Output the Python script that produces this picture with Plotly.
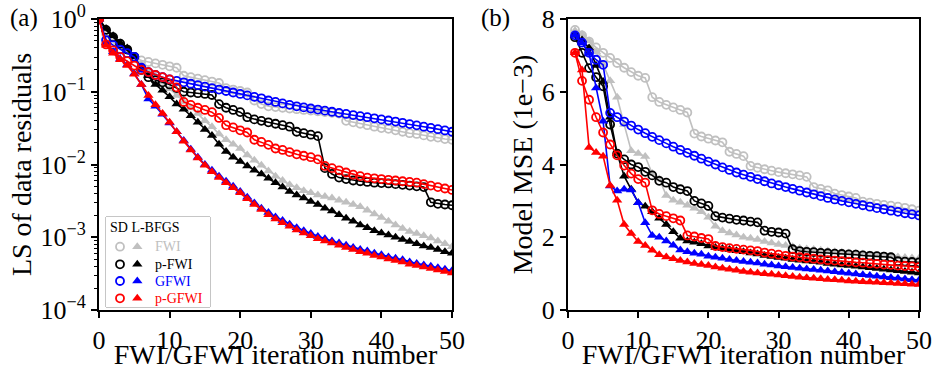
import plotly.graph_objects as go

# ---------------- data ----------------
left_iter = list(range(0, 51))    # panel (a) iterations
right_iter = list(range(1, 51))   # panel (b) iterations

# panel (a): log10 of normalized LS data residuals
ls_fwi_sd_log10 = [0, -0.2, -0.32, -0.41, -0.47, -0.53, -0.57, -0.59, -0.61, -0.63, -0.65, -0.67, -0.78, -0.8, -0.82,
                   -0.84, -0.86, -0.88, -0.95, -0.97, -0.99, -1.01, -1.12, -1.17, -1.2, -1.21, -1.22, -1.23, -1.24, -1.25,
                   -1.26, -1.27, -1.28, -1.29, -1.3, -1.4, -1.42, -1.44, -1.46, -1.48, -1.5, -1.51, -1.53, -1.55, -1.57,
                   -1.58, -1.6, -1.62, -1.63, -1.65, -1.66]
ls_fwi_lb_log10 = [0, -0.15, -0.27, -0.37, -0.45, -0.53, -0.62, -0.7, -0.78, -0.87, -0.96, -1.05, -1.14, -1.22, -1.3,
                   -1.4, -1.48, -1.58, -1.66, -1.72, -1.78, -1.87, -1.94, -2.01, -2.09, -2.16, -2.22, -2.28, -2.32, -2.36,
                   -2.39, -2.42, -2.44, -2.46, -2.49, -2.52, -2.55, -2.58, -2.63, -2.68, -2.73, -2.78, -2.83, -2.88, -2.92,
                   -2.95, -2.98, -3.01, -3.05, -3.09, -3.13]
ls_pfwi_sd_log10 = [0, -0.15, -0.25, -0.34, -0.42, -0.52, -0.7, -0.8, -0.84, -0.87, -0.9, -0.95, -1.0, -1.01, -1.02,
                    -1.03, -1.045, -1.17, -1.22, -1.25, -1.28, -1.35, -1.38, -1.4, -1.42, -1.44, -1.46, -1.48, -1.55, -1.57,
                    -1.59, -1.61, -2.05, -2.13, -2.18, -2.2, -2.22, -2.23, -2.24, -2.25, -2.255, -2.26, -2.27, -2.28, -2.29,
                    -2.3, -2.31, -2.52, -2.54, -2.55, -2.56]
ls_pfwi_lb_log10 = [0, -0.13, -0.23, -0.33, -0.4, -0.52, -0.68, -0.78, -0.9, -0.98, -1.07, -1.17, -1.24, -1.33, -1.42,
                    -1.52, -1.6, -1.72, -1.82, -1.9, -1.96, -2.02, -2.08, -2.13, -2.19, -2.25, -2.31, -2.37, -2.42, -2.46,
                    -2.51, -2.55, -2.6, -2.64, -2.69, -2.74, -2.78, -2.83, -2.87, -2.91, -2.94, -2.97, -3.0, -3.03, -3.06,
                    -3.09, -3.12, -3.14, -3.17, -3.2, -3.22]
ls_gfwi_sd_log10 = [0, -0.29, -0.36, -0.42, -0.47, -0.52, -0.67, -0.73, -0.77, -0.8, -0.83, -0.85, -0.87, -0.89, -0.91,
                    -0.93, -0.95, -0.97, -0.99, -1.01, -1.03, -1.05, -1.07, -1.09, -1.12, -1.14, -1.16, -1.18, -1.2, -1.215,
                    -1.23, -1.245, -1.26, -1.275, -1.29, -1.305, -1.32, -1.335, -1.35, -1.365, -1.38, -1.395, -1.41, -1.427,
                    -1.445, -1.462, -1.48, -1.497, -1.515, -1.532, -1.55]
ls_gfwi_lb_log10 = [0, -0.33, -0.45, -0.55, -0.63, -0.75, -0.9, -1.1, -1.2, -1.31, -1.43, -1.55, -1.67, -1.79, -1.9,
                    -2.0, -2.08, -2.16, -2.23, -2.3, -2.37, -2.45, -2.53, -2.6, -2.66, -2.72, -2.77, -2.82, -2.87, -2.91,
                    -2.95, -2.99, -3.02, -3.05, -3.08, -3.11, -3.14, -3.17, -3.19, -3.22, -3.24, -3.27, -3.29, -3.31, -3.34,
                    -3.36, -3.38, -3.4, -3.42, -3.44, -3.46]
ls_pgfwi_sd_log10 = [0, -0.35, -0.43, -0.52, -0.58, -0.64, -0.7, -0.73, -0.77, -0.8, -0.83, -0.94, -1.14, -1.18, -1.22,
                     -1.25, -1.28, -1.36, -1.46, -1.49, -1.53, -1.56, -1.66, -1.69, -1.73, -1.78, -1.8, -1.83, -1.86, -1.88,
                     -1.9, -1.93, -2.02, -2.05, -2.08, -2.11, -2.14, -2.16, -2.18, -2.19, -2.2, -2.21, -2.22, -2.23, -2.24,
                     -2.25, -2.27, -2.29, -2.31, -2.33, -2.35]
ls_pgfwi_lb_log10 = [0, -0.36, -0.47, -0.56, -0.64, -0.76, -0.9, -1.05, -1.18, -1.3, -1.42, -1.55, -1.68, -1.8, -1.91,
                     -2.01, -2.1, -2.18, -2.25, -2.32, -2.39, -2.47, -2.55, -2.62, -2.69, -2.75, -2.8, -2.85, -2.9, -2.94,
                     -2.98, -3.02, -3.05, -3.08, -3.11, -3.14, -3.17, -3.2, -3.22, -3.25, -3.27, -3.3, -3.32, -3.34, -3.37,
                     -3.39, -3.41, -3.43, -3.45, -3.47, -3.49]

# panel (b): model MSE (x 1e-3)
mse_fwi_sd = [7.7, 7.55, 7.38, 7.22, 7.07, 6.93, 6.79, 6.66, 6.54, 6.44, 6.38, 5.85, 5.72, 5.64, 5.57, 5.5, 5.43,
              4.85, 4.77, 4.71, 4.66, 4.61, 4.35, 4.29, 4.23, 3.96, 3.91, 3.87, 3.83, 3.79, 3.76, 3.73, 3.7, 3.66,
              3.38, 3.33, 3.29, 3.2, 3.16, 3.12, 3.08, 2.98, 2.95, 2.92, 2.89, 2.87, 2.84, 2.81, 2.77, 2.73]
mse_fwi_lb = [7.68, 7.58, 7.4, 7.1, 6.75, 6.3, 5.85, 5.1, 4.38, 4.3, 4.22, 3.75, 3.6, 3.15, 3.02, 2.96, 2.88, 2.8,
              2.7, 2.55, 2.3, 2.18, 2.12, 2.06, 2.0, 1.97, 1.94, 1.88, 1.84, 1.8, 1.77, 1.74, 1.7, 1.68, 1.66, 1.64,
              1.62, 1.6, 1.59, 1.57, 1.56, 1.54, 1.52, 1.5, 1.49, 1.47, 1.46, 1.44, 1.43, 1.42]
mse_pfwi_sd = [7.5, 7.07, 6.65, 6.4, 6.15, 5.1, 4.3, 4.14, 4.0, 3.93, 3.8, 3.7, 3.55, 3.5, 3.38, 3.32, 3.27, 3.0,
               2.93, 2.86, 2.58, 2.54, 2.51, 2.48, 2.46, 2.43, 2.41, 2.18, 2.15, 2.13, 2.1, 1.67, 1.62, 1.6, 1.59,
               1.57, 1.56, 1.55, 1.54, 1.53, 1.52, 1.5, 1.49, 1.48, 1.47, 1.45, 1.34, 1.33, 1.32, 1.31]
mse_pfwi_lb = [7.55, 7.42, 7.2, 6.72, 6.28, 5.3, 4.3, 3.68, 3.32, 2.95, 2.85, 2.7, 2.52, 2.35, 2.15, 1.97, 1.9,
               1.86, 1.82, 1.76, 1.72, 1.69, 1.66, 1.63, 1.6, 1.57, 1.54, 1.5, 1.47, 1.44, 1.42, 1.39, 1.37, 1.35,
               1.33, 1.31, 1.28, 1.26, 1.24, 1.22, 1.2, 1.18, 1.16, 1.14, 1.12, 1.1, 1.08, 1.06, 1.04, 1.02]
mse_gfwi_sd = [7.55, 7.35, 7.07, 6.88, 6.74, 5.42, 5.3, 5.18, 5.07, 4.96, 4.86, 4.76, 4.67, 4.58, 4.49, 4.4, 4.32,
               4.24, 4.16, 4.08, 4.0, 3.92, 3.85, 3.78, 3.72, 3.66, 3.6, 3.54, 3.48, 3.43, 3.38, 3.33, 3.28, 3.23,
               3.18, 3.13, 3.08, 3.04, 3.0, 2.96, 2.92, 2.88, 2.84, 2.8, 2.77, 2.73, 2.7, 2.66, 2.63, 2.6]
mse_gfwi_lb = [7.55, 7.34, 7.05, 6.1, 5.19, 3.41, 3.27, 3.32, 3.3, 2.95, 2.4, 2.05, 2.0, 1.9, 1.78, 1.65, 1.6,
               1.56, 1.53, 1.48, 1.45, 1.42, 1.39, 1.36, 1.33, 1.31, 1.29, 1.26, 1.24, 1.21, 1.19, 1.17, 1.15, 1.13,
               1.11, 1.09, 1.07, 1.05, 1.03, 1.01, 0.99, 0.97, 0.95, 0.93, 0.91, 0.89, 0.87, 0.85, 0.83, 0.82]
mse_pgfwi_sd = [7.07, 6.3, 5.78, 5.3, 4.88, 4.55, 4.25, 3.97, 3.75, 3.6, 3.5, 2.74, 2.64, 2.58, 2.52, 2.46, 2.05,
                2.02, 1.98, 1.95, 1.76, 1.73, 1.7, 1.68, 1.66, 1.64, 1.62, 1.58, 1.55, 1.52, 1.49, 1.47, 1.45, 1.43,
                1.41, 1.39, 1.37, 1.36, 1.34, 1.33, 1.31, 1.3, 1.28, 1.27, 1.25, 1.24, 1.22, 1.21, 1.2, 1.18]
mse_pgfwi_lb = [7.07, 6.6, 4.47, 4.33, 4.23, 3.42, 3.02, 2.35, 2.1, 1.88, 1.77, 1.64, 1.52, 1.46, 1.41, 1.36, 1.32,
                1.28, 1.25, 1.22, 1.18, 1.15, 1.12, 1.09, 1.06, 1.04, 1.02, 1.0, 0.98, 0.96, 0.94, 0.92, 0.9, 0.89,
                0.87, 0.86, 0.84, 0.83, 0.82, 0.8, 0.79, 0.78, 0.77, 0.76, 0.75, 0.74, 0.73, 0.72, 0.71, 0.7]

methods = ["FWI", "p-FWI", "GFWI", "p-GFWI"]
method_colors = ["#c0c0c0", "#000000", "#0000ff", "#ff0000"]
left_sd = [ls_fwi_sd_log10, ls_pfwi_sd_log10, ls_gfwi_sd_log10, ls_pgfwi_sd_log10]
left_lb = [ls_fwi_lb_log10, ls_pfwi_lb_log10, ls_gfwi_lb_log10, ls_pgfwi_lb_log10]
right_sd = [mse_fwi_sd, mse_pfwi_sd, mse_gfwi_sd, mse_pgfwi_sd]
right_lb = [mse_fwi_lb, mse_pfwi_lb, mse_gfwi_lb, mse_pgfwi_lb]

left_yticks = [-4, -3, -2, -1, 0]
right_yticks = [0, 2, 4, 6, 8]
xticks = [0, 10, 20, 30, 40, 50]

# ---------------- figure ----------------
FONT = "Liberation Serif, Times New Roman, serif"
W, H = 936, 370
fig = go.Figure()


def marker_for(kind, color, size_c=8, size_t=9):
    if kind == "sd":
        return dict(symbol="circle-open", size=size_c, color=color, line=dict(width=1.8, color=color))
    return dict(symbol="triangle-up", size=size_t, color=color, line=dict(width=0))


for m, c, sd_a, lb_a, sd_b, lb_b in zip(methods, method_colors, left_sd, left_lb, right_sd, right_lb):
    for kind, ya in (("sd", sd_a), ("lb", lb_a)):
        fig.add_trace(go.Scatter(x=left_iter, y=[10 ** v for v in ya], mode="lines+markers",
                                 line=dict(color=c, width=1.6), marker=marker_for(kind, c),
                                 name=f"{m} {kind}", showlegend=False, xaxis="x", yaxis="y"))
    for kind, yb in (("sd", sd_b), ("lb", lb_b)):
        fig.add_trace(go.Scatter(x=right_iter, y=yb, mode="lines+markers",
                                 line=dict(color=c, width=1.6), marker=marker_for(kind, c),
                                 name=f"{m} {kind}", showlegend=False, xaxis="x2", yaxis="y2"))

# custom legend drawn in its own small axis (pixel-like units)
leg_x0, leg_x1, leg_top, leg_bot = 106, 210, 217, 307
row_y = [246.7, 264.3, 281.0, 298.3]
for m, c, ry in zip(methods, method_colors, row_y):
    fig.add_trace(go.Scatter(x=[120], y=[ry], mode="markers", marker=marker_for("sd", c, 8),
                             showlegend=False, xaxis="x3", yaxis="y3", hoverinfo="skip"))
    fig.add_trace(go.Scatter(x=[137.3], y=[ry], mode="markers", marker=marker_for("lb", c, 8, 9),
                             showlegend=False, xaxis="x3", yaxis="y3", hoverinfo="skip"))
    fig.add_annotation(x=153, y=ry, xref="x3", yref="y3", text=m, showarrow=False, xanchor="left",
                       yanchor="middle", font=dict(family=FONT, size=14, color=c))
fig.add_annotation(x=108, y=227, xref="x3", yref="y3", text="SD L-BFGS", showarrow=False, xanchor="left",
                   yanchor="middle", font=dict(family=FONT, size=14, color="black"))
fig.add_shape(type="rect", xref="x3 domain", yref="y3 domain", x0=0, x1=1, y0=0, y1=1,
              line=dict(color="#8c8c8c", width=1), fillcolor="rgba(0,0,0,0)", layer="below")

ydom = [1 - 310 / H, 1 - 19 / H]
axis_common = dict(showgrid=False, zeroline=False, showline=True, linecolor="black", linewidth=2, mirror=True,
                   ticks="outside", ticklen=6, tickwidth=1.5, tickcolor="black",
                   tickfont=dict(family=FONT, size=26, color="black"))
title_font = dict(family=FONT, size=28, color="black")

fig.update_layout(
    width=W, height=H, template="none", paper_bgcolor="white", plot_bgcolor="white",
    margin=dict(l=0, r=0, t=0, b=0), showlegend=False,
    xaxis=dict(domain=[99 / W, 452 / W], range=[0, 50], tickvals=xticks, anchor="y", automargin=False,
               title=dict(text="FWI/GFWI iteration number", font=title_font, standoff=5), **axis_common),
    yaxis=dict(domain=ydom, type="log", range=[-4, 0], anchor="x", automargin=False,
               tickvals=[10 ** p for p in left_yticks],
               ticktext=[f"10<sup>{'−' if p < 0 else ''}{abs(p)}</sup>" for p in left_yticks],
               minor=dict(ticks="outside", ticklen=3, tickwidth=1, tickcolor="black", dtick="D1"),
               title=dict(text="LS of data residuals", font=title_font, standoff=1), **axis_common),
    xaxis2=dict(domain=[568 / W, 919 / W], range=[0, 50], tickvals=xticks, anchor="y2", automargin=False,
                title=dict(text="FWI/GFWI iteration number", font=title_font, standoff=5), **axis_common),
    yaxis2=dict(domain=ydom, range=[0, 8], tickvals=right_yticks, anchor="x2", automargin=False,
                title=dict(text="Model MSE (1e−3)", font=title_font, standoff=1), **axis_common),
    xaxis3=dict(domain=[leg_x0 / W, leg_x1 / W], range=[leg_x0, leg_x1], visible=False, anchor="y3",
                fixedrange=True),
    yaxis3=dict(domain=[1 - leg_bot / H, 1 - leg_top / H], range=[leg_bot, leg_top], visible=False,
                anchor="x3", fixedrange=True),
)

fig.add_annotation(x=8 / W, y=1 - 18 / H, xref="paper", yref="paper", text="(a)", showarrow=False,
                   xanchor="left", yanchor="middle", font=dict(family=FONT, size=25, color="black"))
fig.add_annotation(x=479 / W, y=1 - 18 / H, xref="paper", yref="paper", text="(b)", showarrow=False,
                   xanchor="left", yanchor="middle", font=dict(family=FONT, size=25, color="black"))

fig.write_html("out.html")
